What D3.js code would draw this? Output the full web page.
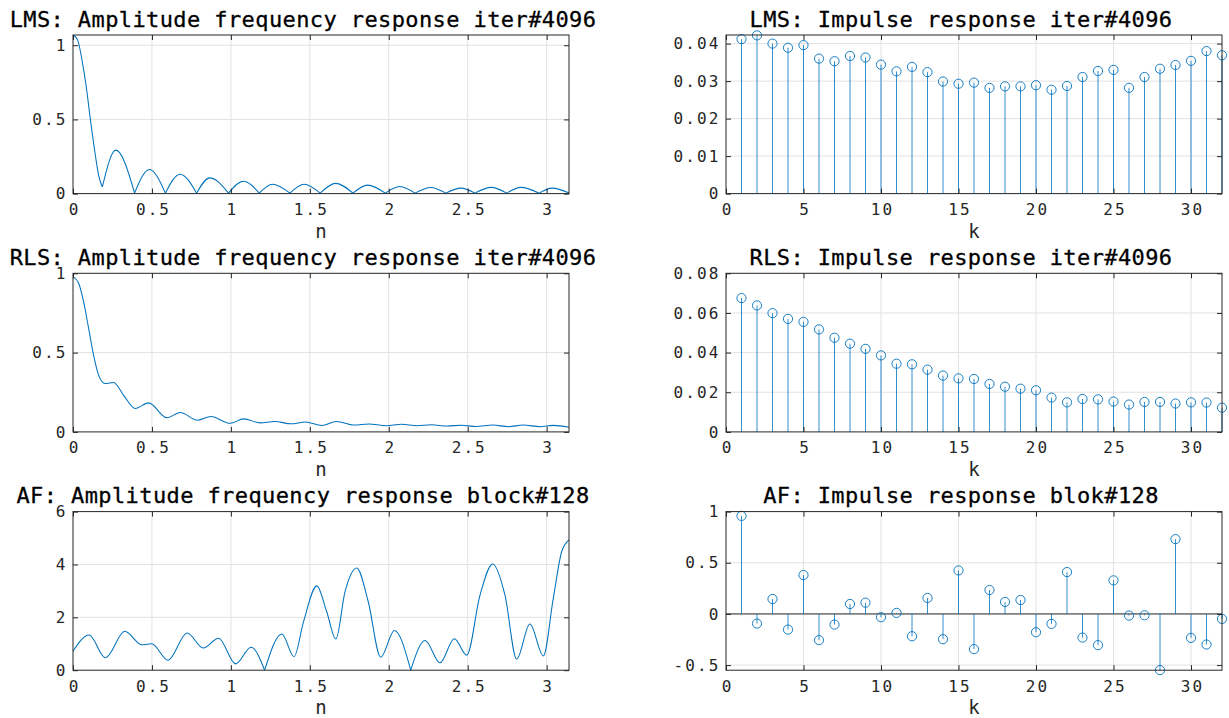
<!DOCTYPE html>
<html><head><meta charset="utf-8">
<script src="https://cdn.jsdelivr.net/npm/d3@7"></script>
<style>body{margin:0;background:#fff}svg{display:block}</style>
</head><body>
<svg id="chart" width="1229" height="718"></svg>
<script>
// ---------- data ----------
const taps = [1,2,3,4,5,6,7,8,9,10,11,12,13,14,15,16,17,18,19,20,21,22,23,24,25,26,27,28,29,30,31,32];
const lmsImpulse = [0.0412,0.0422,0.0400,0.0389,0.0396,0.0360,0.0353,0.0367,0.0363,0.0344,0.0326,0.0338,0.0324,0.0299,0.0293,0.0296,
                    0.0282,0.0286,0.0286,0.0289,0.0277,0.0287,0.0311,0.0327,0.0330,0.0282,0.0311,0.0333,0.0343,0.0354,0.0380,0.0369];
const rlsImpulse = [0.0675,0.0638,0.0599,0.0570,0.0555,0.0517,0.0475,0.0445,0.0419,0.0386,0.0344,0.0341,0.0314,0.0284,0.0270,0.0267,
                    0.0242,0.0228,0.0218,0.0210,0.0173,0.0149,0.0166,0.0164,0.0153,0.0138,0.0151,0.0151,0.0143,0.0149,0.0148,0.0122];
const afImpulse  = [0.958,-0.094,0.146,-0.153,0.380,-0.256,-0.104,0.097,0.110,-0.032,0.010,-0.218,0.156,-0.247,0.425,-0.344,
                    0.234,0.117,0.136,-0.179,-0.097,0.409,-0.231,-0.305,0.328,-0.016,-0.013,-0.549,0.731,-0.234,-0.299,-0.049];

const lmsFreqX = [0,0.029,0.057,0.084,0.11,0.14,0.163,0.186,0.271,0.390,0.484,0.585,0.678,0.783,0.866,0.985,1.079,1.180,1.263,1.374,
                  1.464,1.565,1.664,1.773,1.866,1.978,2.07,2.166,2.266,2.362,2.457,2.545,2.65,2.747,2.838,2.952,3.035,3.1416];
const lmsFreqY = [1.069,1.036,0.90,0.72,0.50,0.27,0.12,0.045,0.293,0.004,0.163,0.003,0.131,0.003,0.106,0.003,0.083,0.003,0.063,0.003,
                  0.063,0.003,0.069,0.003,0.057,0.003,0.048,0.003,0.041,0.003,0.037,0.003,0.042,0.003,0.042,0.003,0.037,0.004];

const rlsFreqX = [0,0.036,0.067,0.099,0.130,0.162,0.204,0.257,0.320,0.394,0.479,0.595,0.679,0.789,0.873,0.996,1.08,1.187,1.277,1.382,
                  1.472,1.577,1.667,1.781,1.873,1.983,2.08,2.18,2.27,2.37,2.46,2.55,2.66,2.76,2.85,2.96,3.04,3.1416];
const rlsFreqY = [0.979,0.937,0.821,0.653,0.485,0.358,0.305,0.312,0.232,0.148,0.183,0.089,0.122,0.074,0.097,0.054,0.082,0.057,0.066,0.051,
                  0.062,0.040,0.066,0.043,0.050,0.039,0.048,0.039,0.045,0.037,0.042,0.034,0.043,0.033,0.043,0.033,0.041,0.029];

const afFreqX = [0,0.102,0.206,0.328,0.437,0.498,0.602,0.723,0.825,0.922,1.03,1.128,1.214,1.323,1.40,1.46,1.544,1.607,1.665,1.723,
                 1.797,1.87,1.949,2.036,2.139,2.23,2.325,2.415,2.494,2.578,2.658,2.736,2.81,2.894,2.979,3.042,3.095,3.1416];
const afFreqY = [0.72,1.33,0.47,1.47,0.96,1.00,0.38,1.41,0.84,1.21,0.24,0.87,0.0,1.37,0.51,1.83,3.19,2.21,1.18,2.97,
                 3.87,2.59,0.49,1.50,0.0,1.12,0.28,1.19,0.57,2.84,4.02,2.84,0.42,1.75,0.54,2.72,4.48,4.93];

const freqTicks = [0,0.5,1,1.5,2,2.5,3];
const tapTicks = [0,5,10,15,20,25,30];
const lmsFreqYTicks = [0,0.5,1];
const lmsImpYTicks = [0,0.01,0.02,0.03,0.04];
const rlsFreqYTicks = [0,0.5,1];
const rlsImpYTicks = [0,0.02,0.04,0.06,0.08];
const afFreqYTicks = [0,2,4,6];
const afImpYTicks = [-0.5,0,0.5,1];

const titles = [
  "LMS: Amplitude frequency response iter#4096", "LMS: Impulse response iter#4096",
  "RLS: Amplitude frequency response iter#4096", "RLS: Impulse response iter#4096",
  "AF: Amplitude frequency response block#128",  "AF: Impulse response blok#128"
];

// ---------- layout ----------
const colX = [[73, 569], [726, 1222]];
const rowTop = [35, 273.3, 511.6];
const plotH = 158.6;
const blue = "#0072BD", axisCol = "#262626", gridCol = "#e2e2e2";
const monoFont = "'DejaVu Sans Mono', monospace";

const panels = [
  {r:0,c:0,kind:"line",title:titles[0],xlabel:"n",xs:lmsFreqX,ys:lmsFreqY,xd:[0,Math.PI],yd:[0,1.069],xt:freqTicks,yt:lmsFreqYTicks,cusp:0.06},
  {r:0,c:1,kind:"stem",title:titles[1],xlabel:"k",xs:taps,ys:lmsImpulse,xd:[0,32],yd:[0,0.0423],xt:tapTicks,yt:lmsImpYTicks},
  {r:1,c:0,kind:"line",title:titles[2],xlabel:"n",xs:rlsFreqX,ys:rlsFreqY,xd:[0,Math.PI],yd:[0,1],xt:freqTicks,yt:rlsFreqYTicks,cusp:-1},
  {r:1,c:1,kind:"stem",title:titles[3],xlabel:"k",xs:taps,ys:rlsImpulse,xd:[0,32],yd:[0,0.08],xt:tapTicks,yt:rlsImpYTicks},
  {r:2,c:0,kind:"line",title:titles[4],xlabel:"n",xs:afFreqX,ys:afFreqY,xd:[0,Math.PI],yd:[0,6],xt:freqTicks,yt:afFreqYTicks,cusp:0.1},
  {r:2,c:1,kind:"stem",title:titles[5],xlabel:"k",xs:taps,ys:afImpulse,xd:[0,32],yd:[-0.55,1],xt:tapTicks,yt:afImpYTicks,baseline:true}
];

const svg = d3.select("#chart");
const fmt = d3.format("~g");
const tickFmt = d => fmt(d).replace("\u2212", "-");

panels.forEach(p => {
  const [x0, x1] = colX[p.c];
  const y0 = rowTop[p.r], y1 = y0 + plotH;
  const x = d3.scaleLinear().domain(p.xd).range([x0, x1]);
  const y = d3.scaleLinear().domain(p.yd).range([y1, y0]);
  const g = svg.append("g");

  // grid
  g.append("g").selectAll("line").data(p.xt.filter(t => t > p.xd[0] && t < p.xd[1])).join("line")
    .attr("x1", d => x(d)).attr("x2", d => x(d)).attr("y1", y0).attr("y2", y1)
    .attr("stroke", gridCol).attr("stroke-width", 1);
  g.append("g").selectAll("line").data(p.yt.filter(t => t > p.yd[0] && t < p.yd[1])).join("line")
    .attr("x1", x0).attr("x2", x1).attr("y1", d => y(d)).attr("y2", d => y(d))
    .attr("stroke", gridCol).attr("stroke-width", 1);

  const clipId = "clip" + p.r + p.c;
  svg.append("clipPath").attr("id", clipId).append("rect")
    .attr("x", x0 - 6).attr("y", y0 - 6).attr("width", x1 - x0 + 12).attr("height", plotH + 12);

  if (p.kind === "line") {
    const pts = p.xs.map((v, i) => [v, p.ys[i]]);
    // split at sharp nulls (cusps) so each lobe is drawn as its own smooth piece
    const segs = [];
    let cur = [pts[0]];
    for (let i = 1; i < pts.length; i++) {
      cur.push(pts[i]);
      if (i < pts.length - 1 && pts[i][1] < pts[i-1][1] && pts[i][1] < pts[i+1][1] && pts[i][1] < p.cusp) {
        segs.push(cur); cur = [pts[i]];
      }
    }
    segs.push(cur);
    const line = d3.line().x(d => x(d[0])).y(d => y(d[1])).curve(d3.curveMonotoneX);
    g.append("g").attr("clip-path", `url(#${clipId})`).selectAll("path").data(segs).join("path")
      .attr("d", line).attr("fill", "none").attr("stroke", blue).attr("stroke-width", 1.05)
      .attr("stroke-linejoin", "round");
  } else {
    if (p.baseline) {
      g.append("line").attr("x1", x0).attr("x2", x1).attr("y1", y(0)).attr("y2", y(0))
        .attr("stroke", "#808080").attr("stroke-width", 1.6);
    }
    const sg = g.append("g");
    sg.selectAll("line").data(p.xs).join("line")
      .attr("x1", d => x(d)).attr("x2", d => x(d))
      .attr("y1", y(0)).attr("y2", (d, i) => y(p.ys[i]))
      .attr("stroke", blue).attr("stroke-width", 0.8);
    sg.selectAll("circle").data(p.xs).join("circle")
      .attr("cx", d => x(d)).attr("cy", (d, i) => y(p.ys[i])).attr("r", 4.6)
      .attr("fill", "none").attr("stroke", blue).attr("stroke-width", 0.9);
  }

  // axes (ticks inside, box)
  const styleAxis = (sel, showLabels) => {
    sel.select(".domain").remove();
    sel.selectAll(".tick line").attr("stroke", axisCol).attr("stroke-width", 1);
    sel.selectAll(".tick text").attr("fill", axisCol).style("font-family", monoFont)
      .style("font-size", "16px").style("letter-spacing", "2.1px");
    if (!showLabels) sel.selectAll(".tick text").remove();
  };
  g.append("g").attr("transform", `translate(0,${y1})`)
    .call(d3.axisBottom(x).tickValues(p.xt).tickFormat(tickFmt).tickSize(-5).tickPadding(10))
    .call(s => styleAxis(s, true))
    .call(s => s.selectAll(".tick text").attr("dx", "1.05px"));
  g.append("g").attr("transform", `translate(0,${y0})`)
    .call(d3.axisTop(x).tickValues(p.xt).tickSize(-5)).call(s => styleAxis(s, false));
  g.append("g").attr("transform", `translate(${x0},0)`)
    .call(d3.axisLeft(y).tickValues(p.yt).tickFormat(tickFmt).tickSize(-5).tickPadding(5.5))
    .call(s => styleAxis(s, true));
  g.append("g").attr("transform", `translate(${x1},0)`)
    .call(d3.axisRight(y).tickValues(p.yt).tickSize(-5)).call(s => styleAxis(s, false));

  g.append("rect").attr("x", x0).attr("y", y0).attr("width", x1 - x0).attr("height", plotH)
    .attr("fill", "none").attr("stroke", axisCol).attr("stroke-width", 1);

  // title
  const cx = (x0 + x1) / 2 + (p.c === 0 ? -18 : -13);
  g.append("text").attr("x", cx).attr("y", y0 - 8.5).attr("text-anchor", "middle")
    .style("font-family", monoFont).style("font-size", "22px").style("font-weight", "normal")
    .style("letter-spacing", "0.4px").attr("fill", "#000")
    .attr("stroke", "#000").attr("stroke-width", 0.3).text(p.title);

  // x label
  g.append("text").attr("x", (x0 + x1) / 2).attr("y", y1 + 44).attr("text-anchor", "middle")
    .style("font-family", monoFont).style("font-size", "19px").attr("fill", axisCol).text(p.xlabel);
});
</script>
</body></html>
